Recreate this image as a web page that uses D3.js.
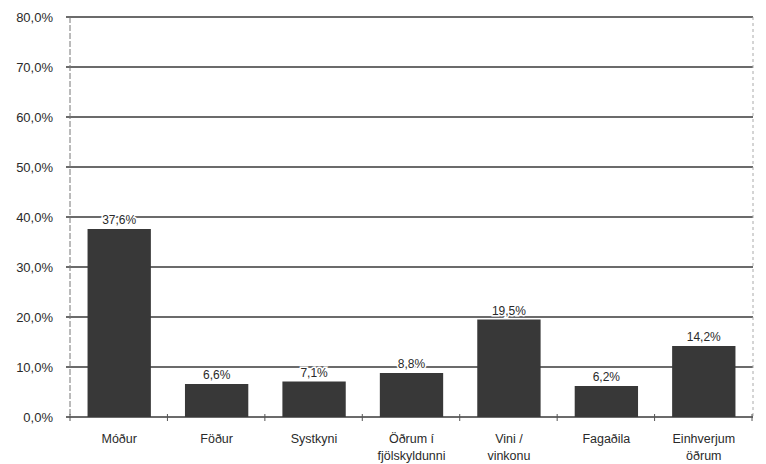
<!DOCTYPE html>
<html>
<head>
<meta charset="utf-8">
<script src="https://cdn.jsdelivr.net/npm/d3@7"></script>
<style>
  body { margin: 0; background: #fff; }
  svg { display: block; font-family: 'Liberation Sans', Arial, sans-serif; }
</style>
</head>
<body>
<svg id="chart" width="766" height="464"></svg>
<script>
const categories = [
  ['Móður'],
  ['Föður'],
  ['Systkyni'],
  ['Öðrum í', 'fjölskyldunni'],
  ['Vini /', 'vinkonu'],
  ['Fagaðila'],
  ['Einhverjum', 'öðrum'],
];
const values = [37.6, 6.6, 7.1, 8.8, 19.5, 6.2, 14.2];
const yTicks = [0, 10, 20, 30, 40, 50, 60, 70, 80];

const width = 766;
const height = 464;
const margin = { top: 17, right: 13, bottom: 47, left: 70 };

const svg = d3.select('#chart');
const fmt = v => d3.format('.1f')(v).replace('.', ',');

const x = d3.scaleBand()
  .domain(d3.range(values.length))
  .range([margin.left, width - margin.right])
  .paddingInner(0.35)
  .paddingOuter(0.18);

const y = d3.scaleLinear()
  .domain([0, 80])
  .range([height - margin.bottom, margin.top]);

// gridlines
svg.append('g')
  .selectAll('line')
  .data(yTicks)
  .join('line')
  .attr('x1', margin.left - 4)
  .attr('x2', width - margin.right)
  .attr('y1', d => y(d))
  .attr('y2', d => y(d))
  .attr('stroke', '#3a3a3a')
  .attr('stroke-width', 1.4);

// left axis line + right border
svg.append('line')
  .attr('x1', margin.left).attr('x2', margin.left)
  .attr('y1', margin.top).attr('y2', y(0))
  .attr('stroke', '#777').attr('stroke-width', 1)
  .attr('stroke-dasharray', '6,2');
svg.append('line')
  .attr('x1', width - margin.right).attr('x2', width - margin.right)
  .attr('y1', margin.top).attr('y2', y(0))
  .attr('stroke', '#aaa').attr('stroke-width', 1)
  .attr('stroke-dasharray', '3,3');

// y labels
svg.append('g')
  .selectAll('text')
  .data(yTicks)
  .join('text')
  .attr('x', 53)
  .attr('y', d => y(d) + 4.5)
  .attr('text-anchor', 'end')
  .attr('font-size', 13)
  .attr('fill', '#2a2a2a')
  .text(d => fmt(d) + '%');

// category tick marks on x axis
svg.append('g')
  .selectAll('line')
  .data(d3.range(values.length + 1))
  .join('line')
  .attr('x1', i => margin.left + i * x.step())
  .attr('x2', i => margin.left + i * x.step())
  .attr('y1', y(0) - 3)
  .attr('y2', y(0) + 4)
  .attr('stroke', '#555');

// bars
svg.append('g')
  .selectAll('rect')
  .data(values)
  .join('rect')
  .attr('x', (d, i) => x(i))
  .attr('width', x.bandwidth())
  .attr('y', d => y(d))
  .attr('height', d => y(0) - y(d))
  .attr('fill', '#383838');

// value labels
svg.append('g')
  .selectAll('text')
  .data(values)
  .join('text')
  .attr('x', (d, i) => x(i) + x.bandwidth() / 2)
  .attr('y', d => y(d) - 5)
  .attr('text-anchor', 'middle')
  .attr('font-size', 12)
  .attr('fill', '#2a2a2a')
  .attr('paint-order', 'stroke')
  .attr('stroke', '#fff')
  .attr('stroke-width', 3)
  .text(d => fmt(d) + '%');

// category labels
const cat = svg.append('g')
  .selectAll('text')
  .data(categories)
  .join('text')
  .attr('text-anchor', 'middle')
  .attr('font-size', 12.5)
  .attr('fill', '#2a2a2a');
cat.each(function(lines, i) {
  d3.select(this).selectAll('tspan')
    .data(lines)
    .join('tspan')
    .attr('x', x(i) + x.bandwidth() / 2)
    .attr('y', (l, j) => 443 + j * 17)
    .text(l => l);
});
</script>
</body>
</html>
